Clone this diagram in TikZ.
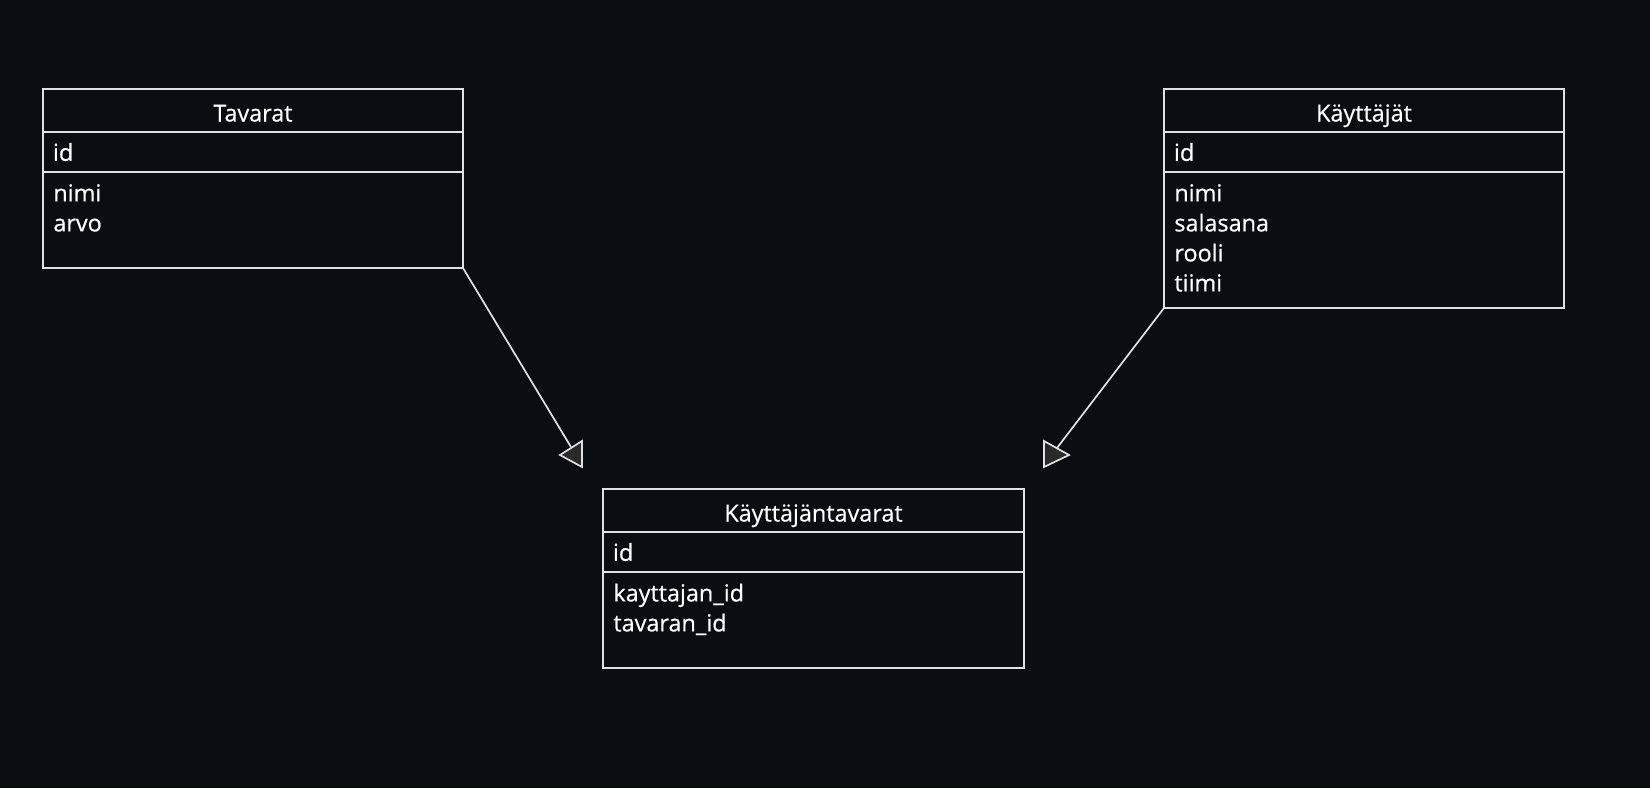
\documentclass[tikz,border=0pt]{standalone}
\usepackage{fontspec}
\setmainfont{Open Sans}[FakeBold=0.5]
\usetikzlibrary{positioning}
\definecolor{bgcol}{RGB}{11,13,17}
\definecolor{lncol}{RGB}{225,225,225}
\definecolor{tipcol}{RGB}{42,42,42}
\newcommand{\fldtop}{\rule{0pt}{14.5pt}}

\begin{document}
\begin{tikzpicture}[
	x=0.5pt, y=-0.5pt,
	every node/.style={font=\fontsize{11.7}{15}\selectfont, text=white},
	hdrbox/.style={rectangle, draw=lncol, line width=0.85pt, outer sep=0pt, minimum width=#1, minimum height=21.5pt, text height=11pt, text depth=0pt},
	keybox/.style={rectangle, draw=lncol, line width=0.85pt, outer sep=0pt, text width=#1, inner xsep=5pt, minimum height=20pt, text height=10pt, text depth=1.2pt, align=left},
	fldbox/.style 2 args={rectangle, draw=lncol, line width=0.85pt, outer sep=0pt, minimum width=#1, minimum height=#2},
	fldtext/.style={anchor=north west, align=left, inner xsep=5pt, inner ysep=0pt},
	link/.style={draw=lncol, line width=0.85pt},
	opentip/.style={draw=lncol, fill=tipcol, line width=0.85pt, line join=miter},
	node distance=0pt,
	]
	\useasboundingbox[fill=bgcol] (0,0) rectangle (1650,788);

	%Nodes
	\node[hdrbox=210pt, anchor=north west](tav) at (43,89) {Tavarat};
	\node[keybox=200pt](tavid)[below=of tav]{id};
	\node[fldbox={210pt}{48pt}](tavfld)[below=of tavid]{};
	\node[fldtext](tavtxt) at (tavfld.north west) {\fldtop nimi\\arvo};

	\node[hdrbox=200pt, anchor=north west](kay) at (1164,89) {Käyttäjät};
	\node[keybox=190pt](kayid)[below=of kay]{id};
	\node[fldbox={200pt}{68pt}](kayfld)[below=of kayid]{};
	\node[fldtext](kaytxt) at (kayfld.north west) {\fldtop nimi\\salasana\\rooli\\tiimi};

	\node[hdrbox=210.5pt, anchor=north west](kt) at (603,489) {Käyttäjäntavarat};
	\node[keybox=200.5pt](ktid)[below=of kt]{id};
	\node[fldbox={210.5pt}{48pt}](ktfld)[below=of ktid]{};
	\node[fldtext](kttxt) at (ktfld.north west) {\fldtop kayttajan\_id\\tavaran\_id};

	%Lines
	\coordinate (tavend) at (571,447);
	\coordinate (kayend) at (1057,448);

	\draw[link] (tavfld.south east) -- (tavend);
	\draw[link] (kayfld.south west) -- (kayend);

	\draw[opentip, shift={(tavend)}] (11,-6) -- (-11,8) -- (11,20) -- cycle;
	\draw[opentip, shift={(kayend)}] (-13,-7) -- (12,7) -- (-13,19) -- cycle;

\end{tikzpicture}
\end{document}
